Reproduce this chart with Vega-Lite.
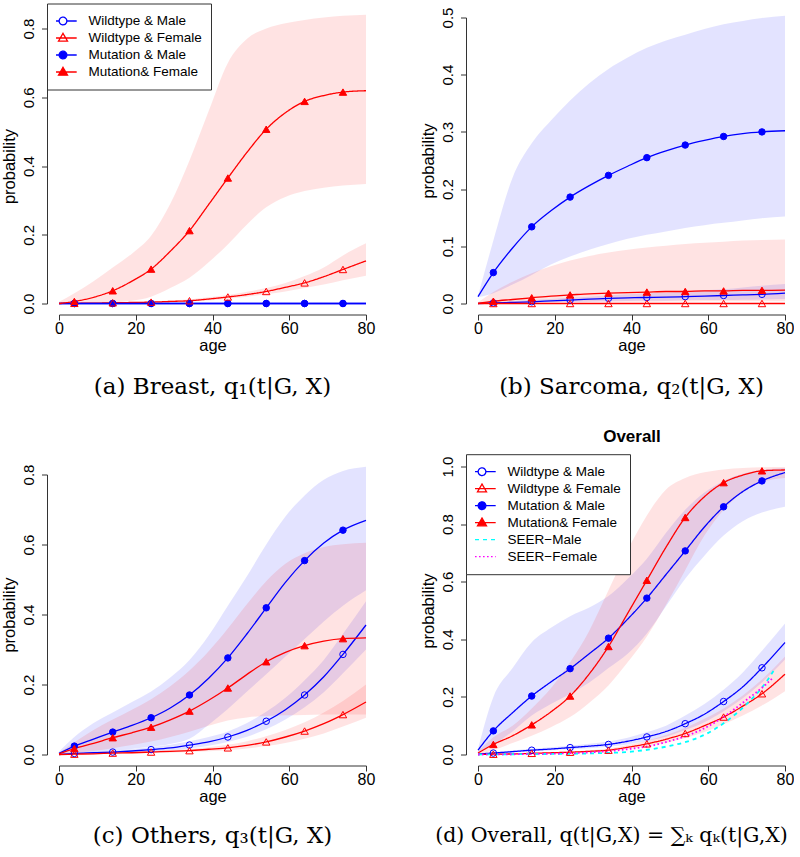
{
"$schema": "https://vega.github.io/schema/vega-lite/v6.json",
"padding": {"left": 1, "top": 2.5, "right": 0, "bottom": 0},
"datasets": {
"curves": [
{"p":"a","s":"Wildtype & Male","age":0,"est":0,"lo":0,"hi":0},
{"p":"a","s":"Wildtype & Male","age":4,"est":0,"lo":0,"hi":0},
{"p":"a","s":"Wildtype & Male","age":9,"est":0,"lo":0,"hi":0},
{"p":"a","s":"Wildtype & Male","age":14,"est":0,"lo":0,"hi":0},
{"p":"a","s":"Wildtype & Male","age":19,"est":0,"lo":0,"hi":0},
{"p":"a","s":"Wildtype & Male","age":24,"est":0,"lo":0,"hi":0},
{"p":"a","s":"Wildtype & Male","age":29,"est":0,"lo":0,"hi":0},
{"p":"a","s":"Wildtype & Male","age":34,"est":0,"lo":0,"hi":0},
{"p":"a","s":"Wildtype & Male","age":39,"est":0,"lo":0,"hi":0},
{"p":"a","s":"Wildtype & Male","age":44,"est":0,"lo":0,"hi":0},
{"p":"a","s":"Wildtype & Male","age":49,"est":0,"lo":0,"hi":0},
{"p":"a","s":"Wildtype & Male","age":54,"est":0,"lo":0,"hi":0},
{"p":"a","s":"Wildtype & Male","age":59,"est":0,"lo":0,"hi":0},
{"p":"a","s":"Wildtype & Male","age":64,"est":0,"lo":0,"hi":0},
{"p":"a","s":"Wildtype & Male","age":69,"est":0,"lo":0,"hi":0},
{"p":"a","s":"Wildtype & Male","age":74,"est":0,"lo":0,"hi":0},
{"p":"a","s":"Wildtype & Male","age":80,"est":0,"lo":0,"hi":0},
{"p":"a","s":"Wildtype & Female","age":0,"est":0,"lo":0,"hi":0},
{"p":"a","s":"Wildtype & Female","age":4,"est":0.0005,"lo":0,"hi":0.001},
{"p":"a","s":"Wildtype & Female","age":9,"est":0.001,"lo":0.0005,"hi":0.002},
{"p":"a","s":"Wildtype & Female","age":14,"est":0.002,"lo":0.001,"hi":0.003},
{"p":"a","s":"Wildtype & Female","age":19,"est":0.003,"lo":0.0015,"hi":0.0045},
{"p":"a","s":"Wildtype & Female","age":24,"est":0.004,"lo":0.002,"hi":0.006},
{"p":"a","s":"Wildtype & Female","age":29,"est":0.006,"lo":0.004,"hi":0.009},
{"p":"a","s":"Wildtype & Female","age":34,"est":0.008,"lo":0.006,"hi":0.012},
{"p":"a","s":"Wildtype & Female","age":39,"est":0.013,"lo":0.009,"hi":0.018},
{"p":"a","s":"Wildtype & Female","age":44,"est":0.019,"lo":0.014,"hi":0.025},
{"p":"a","s":"Wildtype & Female","age":49,"est":0.026,"lo":0.02,"hi":0.034},
{"p":"a","s":"Wildtype & Female","age":54,"est":0.035,"lo":0.027,"hi":0.045},
{"p":"a","s":"Wildtype & Female","age":59,"est":0.047,"lo":0.035,"hi":0.06},
{"p":"a","s":"Wildtype & Female","age":64,"est":0.06,"lo":0.045,"hi":0.08},
{"p":"a","s":"Wildtype & Female","age":69,"est":0.078,"lo":0.055,"hi":0.105},
{"p":"a","s":"Wildtype & Female","age":74,"est":0.099,"lo":0.068,"hi":0.14},
{"p":"a","s":"Wildtype & Female","age":80,"est":0.124,"lo":0.081,"hi":0.175},
{"p":"a","s":"Mutation & Male","age":0,"est":0,"lo":0,"hi":0},
{"p":"a","s":"Mutation & Male","age":4,"est":0,"lo":0,"hi":0},
{"p":"a","s":"Mutation & Male","age":9,"est":0,"lo":0,"hi":0},
{"p":"a","s":"Mutation & Male","age":14,"est":0,"lo":0,"hi":0},
{"p":"a","s":"Mutation & Male","age":19,"est":0,"lo":0,"hi":0},
{"p":"a","s":"Mutation & Male","age":24,"est":0,"lo":0,"hi":0},
{"p":"a","s":"Mutation & Male","age":29,"est":0,"lo":0,"hi":0},
{"p":"a","s":"Mutation & Male","age":34,"est":0,"lo":0,"hi":0},
{"p":"a","s":"Mutation & Male","age":39,"est":0,"lo":0,"hi":0},
{"p":"a","s":"Mutation & Male","age":44,"est":0,"lo":0,"hi":0},
{"p":"a","s":"Mutation & Male","age":49,"est":0,"lo":0,"hi":0},
{"p":"a","s":"Mutation & Male","age":54,"est":0,"lo":0,"hi":0},
{"p":"a","s":"Mutation & Male","age":59,"est":0,"lo":0,"hi":0},
{"p":"a","s":"Mutation & Male","age":64,"est":0,"lo":0,"hi":0},
{"p":"a","s":"Mutation & Male","age":69,"est":0,"lo":0,"hi":0},
{"p":"a","s":"Mutation & Male","age":74,"est":0,"lo":0,"hi":0},
{"p":"a","s":"Mutation & Male","age":80,"est":0,"lo":0,"hi":0},
{"p":"a","s":"Mutation& Female","age":0,"est":0,"lo":0,"hi":0.005},
{"p":"a","s":"Mutation& Female","age":4,"est":0.006,"lo":0,"hi":0.03},
{"p":"a","s":"Mutation& Female","age":9,"est":0.018,"lo":0.001,"hi":0.065},
{"p":"a","s":"Mutation& Female","age":14,"est":0.037,"lo":0.003,"hi":0.105},
{"p":"a","s":"Mutation& Female","age":19,"est":0.065,"lo":0.008,"hi":0.145},
{"p":"a","s":"Mutation& Female","age":24,"est":0.1,"lo":0.02,"hi":0.197},
{"p":"a","s":"Mutation& Female","age":29,"est":0.152,"lo":0.045,"hi":0.29},
{"p":"a","s":"Mutation& Female","age":34,"est":0.212,"lo":0.075,"hi":0.416},
{"p":"a","s":"Mutation& Female","age":39,"est":0.288,"lo":0.12,"hi":0.56},
{"p":"a","s":"Mutation& Female","age":44,"est":0.365,"lo":0.172,"hi":0.7},
{"p":"a","s":"Mutation& Female","age":49,"est":0.44,"lo":0.23,"hi":0.77},
{"p":"a","s":"Mutation& Female","age":54,"est":0.507,"lo":0.28,"hi":0.8},
{"p":"a","s":"Mutation& Female","age":59,"est":0.555,"lo":0.31,"hi":0.815},
{"p":"a","s":"Mutation& Female","age":64,"est":0.588,"lo":0.327,"hi":0.825},
{"p":"a","s":"Mutation& Female","age":69,"est":0.605,"lo":0.337,"hi":0.832},
{"p":"a","s":"Mutation& Female","age":74,"est":0.615,"lo":0.343,"hi":0.837},
{"p":"a","s":"Mutation& Female","age":80,"est":0.619,"lo":0.348,"hi":0.84},
{"p":"b","s":"Wildtype & Male","age":0,"est":0,"lo":0,"hi":0},
{"p":"b","s":"Wildtype & Male","age":4,"est":0.001,"lo":0.0005,"hi":0.002},
{"p":"b","s":"Wildtype & Male","age":9,"est":0.002,"lo":0.001,"hi":0.004},
{"p":"b","s":"Wildtype & Male","age":14,"est":0.003,"lo":0.0015,"hi":0.006},
{"p":"b","s":"Wildtype & Male","age":19,"est":0.0045,"lo":0.002,"hi":0.008},
{"p":"b","s":"Wildtype & Male","age":24,"est":0.006,"lo":0.003,"hi":0.01},
{"p":"b","s":"Wildtype & Male","age":29,"est":0.0075,"lo":0.0035,"hi":0.012},
{"p":"b","s":"Wildtype & Male","age":34,"est":0.009,"lo":0.004,"hi":0.014},
{"p":"b","s":"Wildtype & Male","age":39,"est":0.01,"lo":0.0045,"hi":0.016},
{"p":"b","s":"Wildtype & Male","age":44,"est":0.0105,"lo":0.005,"hi":0.018},
{"p":"b","s":"Wildtype & Male","age":49,"est":0.011,"lo":0.005,"hi":0.019},
{"p":"b","s":"Wildtype & Male","age":54,"est":0.012,"lo":0.0055,"hi":0.021},
{"p":"b","s":"Wildtype & Male","age":59,"est":0.013,"lo":0.006,"hi":0.023},
{"p":"b","s":"Wildtype & Male","age":64,"est":0.014,"lo":0.006,"hi":0.025},
{"p":"b","s":"Wildtype & Male","age":69,"est":0.015,"lo":0.0065,"hi":0.028},
{"p":"b","s":"Wildtype & Male","age":74,"est":0.016,"lo":0.007,"hi":0.031},
{"p":"b","s":"Wildtype & Male","age":80,"est":0.018,"lo":0.008,"hi":0.034},
{"p":"b","s":"Wildtype & Female","age":0,"est":0,"lo":0,"hi":0},
{"p":"b","s":"Wildtype & Female","age":4,"est":0,"lo":0,"hi":0},
{"p":"b","s":"Wildtype & Female","age":9,"est":0,"lo":0,"hi":0},
{"p":"b","s":"Wildtype & Female","age":14,"est":0,"lo":0,"hi":0},
{"p":"b","s":"Wildtype & Female","age":19,"est":0,"lo":0,"hi":0},
{"p":"b","s":"Wildtype & Female","age":24,"est":0,"lo":0,"hi":0},
{"p":"b","s":"Wildtype & Female","age":29,"est":0,"lo":0,"hi":0},
{"p":"b","s":"Wildtype & Female","age":34,"est":0,"lo":0,"hi":0},
{"p":"b","s":"Wildtype & Female","age":39,"est":0,"lo":0,"hi":0},
{"p":"b","s":"Wildtype & Female","age":44,"est":0,"lo":0,"hi":0},
{"p":"b","s":"Wildtype & Female","age":49,"est":0,"lo":0,"hi":0},
{"p":"b","s":"Wildtype & Female","age":54,"est":0,"lo":0,"hi":0},
{"p":"b","s":"Wildtype & Female","age":59,"est":0,"lo":0,"hi":0},
{"p":"b","s":"Wildtype & Female","age":64,"est":0,"lo":0,"hi":0},
{"p":"b","s":"Wildtype & Female","age":69,"est":0,"lo":0,"hi":0},
{"p":"b","s":"Wildtype & Female","age":74,"est":0,"lo":0,"hi":0},
{"p":"b","s":"Wildtype & Female","age":80,"est":0,"lo":0,"hi":0},
{"p":"b","s":"Mutation & Male","age":0,"est":0.012,"lo":0.011,"hi":0.013},
{"p":"b","s":"Mutation & Male","age":4,"est":0.054,"lo":0.018,"hi":0.11},
{"p":"b","s":"Mutation & Male","age":9,"est":0.097,"lo":0.033,"hi":0.22},
{"p":"b","s":"Mutation & Male","age":14,"est":0.134,"lo":0.05,"hi":0.28},
{"p":"b","s":"Mutation & Male","age":19,"est":0.162,"lo":0.068,"hi":0.32},
{"p":"b","s":"Mutation & Male","age":24,"est":0.186,"lo":0.082,"hi":0.355},
{"p":"b","s":"Mutation & Male","age":29,"est":0.206,"lo":0.094,"hi":0.385},
{"p":"b","s":"Mutation & Male","age":34,"est":0.224,"lo":0.104,"hi":0.41},
{"p":"b","s":"Mutation & Male","age":39,"est":0.24,"lo":0.113,"hi":0.43},
{"p":"b","s":"Mutation & Male","age":44,"est":0.255,"lo":0.12,"hi":0.447},
{"p":"b","s":"Mutation & Male","age":49,"est":0.267,"lo":0.126,"hi":0.46},
{"p":"b","s":"Mutation & Male","age":54,"est":0.277,"lo":0.132,"hi":0.47},
{"p":"b","s":"Mutation & Male","age":59,"est":0.285,"lo":0.137,"hi":0.48},
{"p":"b","s":"Mutation & Male","age":64,"est":0.292,"lo":0.141,"hi":0.488},
{"p":"b","s":"Mutation & Male","age":69,"est":0.297,"lo":0.145,"hi":0.494},
{"p":"b","s":"Mutation & Male","age":74,"est":0.3,"lo":0.149,"hi":0.499},
{"p":"b","s":"Mutation & Male","age":80,"est":0.302,"lo":0.152,"hi":0.503},
{"p":"b","s":"Mutation& Female","age":0,"est":0,"lo":0,"hi":0.002},
{"p":"b","s":"Mutation& Female","age":4,"est":0.004,"lo":0.0005,"hi":0.02},
{"p":"b","s":"Mutation& Female","age":9,"est":0.007,"lo":0.001,"hi":0.038},
{"p":"b","s":"Mutation& Female","age":14,"est":0.01,"lo":0.0015,"hi":0.053},
{"p":"b","s":"Mutation& Female","age":19,"est":0.013,"lo":0.002,"hi":0.065},
{"p":"b","s":"Mutation& Female","age":24,"est":0.015,"lo":0.002,"hi":0.075},
{"p":"b","s":"Mutation& Female","age":29,"est":0.017,"lo":0.0025,"hi":0.083},
{"p":"b","s":"Mutation& Female","age":34,"est":0.018,"lo":0.003,"hi":0.089},
{"p":"b","s":"Mutation& Female","age":39,"est":0.019,"lo":0.003,"hi":0.094},
{"p":"b","s":"Mutation& Female","age":44,"est":0.02,"lo":0.003,"hi":0.098},
{"p":"b","s":"Mutation& Female","age":49,"est":0.021,"lo":0.0035,"hi":0.101},
{"p":"b","s":"Mutation& Female","age":54,"est":0.021,"lo":0.0035,"hi":0.104},
{"p":"b","s":"Mutation& Female","age":59,"est":0.022,"lo":0.004,"hi":0.106},
{"p":"b","s":"Mutation& Female","age":64,"est":0.022,"lo":0.004,"hi":0.108},
{"p":"b","s":"Mutation& Female","age":69,"est":0.023,"lo":0.004,"hi":0.11},
{"p":"b","s":"Mutation& Female","age":74,"est":0.023,"lo":0.004,"hi":0.111},
{"p":"b","s":"Mutation& Female","age":80,"est":0.0235,"lo":0.004,"hi":0.112},
{"p":"c","s":"Wildtype & Male","age":0,"est":0,"lo":0,"hi":0.001},
{"p":"c","s":"Wildtype & Male","age":4,"est":0.003,"lo":0.001,"hi":0.005},
{"p":"c","s":"Wildtype & Male","age":9,"est":0.005,"lo":0.002,"hi":0.008},
{"p":"c","s":"Wildtype & Male","age":14,"est":0.007,"lo":0.004,"hi":0.011},
{"p":"c","s":"Wildtype & Male","age":19,"est":0.01,"lo":0.006,"hi":0.015},
{"p":"c","s":"Wildtype & Male","age":24,"est":0.014,"lo":0.008,"hi":0.021},
{"p":"c","s":"Wildtype & Male","age":29,"est":0.019,"lo":0.012,"hi":0.028},
{"p":"c","s":"Wildtype & Male","age":34,"est":0.027,"lo":0.017,"hi":0.038},
{"p":"c","s":"Wildtype & Male","age":39,"est":0.036,"lo":0.025,"hi":0.05},
{"p":"c","s":"Wildtype & Male","age":44,"est":0.05,"lo":0.036,"hi":0.066},
{"p":"c","s":"Wildtype & Male","age":49,"est":0.069,"lo":0.051,"hi":0.09},
{"p":"c","s":"Wildtype & Male","age":54,"est":0.095,"lo":0.072,"hi":0.122},
{"p":"c","s":"Wildtype & Male","age":59,"est":0.128,"lo":0.1,"hi":0.162},
{"p":"c","s":"Wildtype & Male","age":64,"est":0.17,"lo":0.135,"hi":0.212},
{"p":"c","s":"Wildtype & Male","age":69,"est":0.222,"lo":0.178,"hi":0.27},
{"p":"c","s":"Wildtype & Male","age":74,"est":0.286,"lo":0.232,"hi":0.345},
{"p":"c","s":"Wildtype & Male","age":80,"est":0.37,"lo":0.3,"hi":0.438},
{"p":"c","s":"Wildtype & Female","age":0,"est":0,"lo":0,"hi":0},
{"p":"c","s":"Wildtype & Female","age":4,"est":0.001,"lo":0.0005,"hi":0.002},
{"p":"c","s":"Wildtype & Female","age":9,"est":0.002,"lo":0.001,"hi":0.003},
{"p":"c","s":"Wildtype & Female","age":14,"est":0.004,"lo":0.002,"hi":0.006},
{"p":"c","s":"Wildtype & Female","age":19,"est":0.005,"lo":0.003,"hi":0.008},
{"p":"c","s":"Wildtype & Female","age":24,"est":0.007,"lo":0.004,"hi":0.01},
{"p":"c","s":"Wildtype & Female","age":29,"est":0.009,"lo":0.005,"hi":0.013},
{"p":"c","s":"Wildtype & Female","age":34,"est":0.011,"lo":0.007,"hi":0.016},
{"p":"c","s":"Wildtype & Female","age":39,"est":0.015,"lo":0.009,"hi":0.021},
{"p":"c","s":"Wildtype & Female","age":44,"est":0.019,"lo":0.012,"hi":0.028},
{"p":"c","s":"Wildtype & Female","age":49,"est":0.026,"lo":0.017,"hi":0.038},
{"p":"c","s":"Wildtype & Female","age":54,"est":0.036,"lo":0.024,"hi":0.052},
{"p":"c","s":"Wildtype & Female","age":59,"est":0.05,"lo":0.033,"hi":0.07},
{"p":"c","s":"Wildtype & Female","age":64,"est":0.067,"lo":0.045,"hi":0.092},
{"p":"c","s":"Wildtype & Female","age":69,"est":0.088,"lo":0.06,"hi":0.12},
{"p":"c","s":"Wildtype & Female","age":74,"est":0.114,"lo":0.08,"hi":0.153},
{"p":"c","s":"Wildtype & Female","age":80,"est":0.15,"lo":0.105,"hi":0.2},
{"p":"c","s":"Mutation & Male","age":0,"est":0.003,"lo":0,"hi":0.008},
{"p":"c","s":"Mutation & Male","age":4,"est":0.024,"lo":0.002,"hi":0.05},
{"p":"c","s":"Mutation & Male","age":9,"est":0.044,"lo":0.005,"hi":0.09},
{"p":"c","s":"Mutation & Male","age":14,"est":0.064,"lo":0.01,"hi":0.12},
{"p":"c","s":"Mutation & Male","age":19,"est":0.083,"lo":0.016,"hi":0.15},
{"p":"c","s":"Mutation & Male","age":24,"est":0.105,"lo":0.022,"hi":0.18},
{"p":"c","s":"Mutation & Male","age":29,"est":0.133,"lo":0.03,"hi":0.22},
{"p":"c","s":"Mutation & Male","age":34,"est":0.17,"lo":0.045,"hi":0.27},
{"p":"c","s":"Mutation & Male","age":39,"est":0.218,"lo":0.085,"hi":0.34},
{"p":"c","s":"Mutation & Male","age":44,"est":0.276,"lo":0.13,"hi":0.425},
{"p":"c","s":"Mutation & Male","age":49,"est":0.345,"lo":0.18,"hi":0.51},
{"p":"c","s":"Mutation & Male","age":54,"est":0.419,"lo":0.229,"hi":0.6},
{"p":"c","s":"Mutation & Male","age":59,"est":0.492,"lo":0.28,"hi":0.68},
{"p":"c","s":"Mutation & Male","age":64,"est":0.554,"lo":0.33,"hi":0.74},
{"p":"c","s":"Mutation & Male","age":69,"est":0.604,"lo":0.38,"hi":0.785},
{"p":"c","s":"Mutation & Male","age":74,"est":0.641,"lo":0.425,"hi":0.81},
{"p":"c","s":"Mutation & Male","age":80,"est":0.669,"lo":0.469,"hi":0.822},
{"p":"c","s":"Mutation& Female","age":0,"est":0.002,"lo":0,"hi":0.005},
{"p":"c","s":"Mutation& Female","age":4,"est":0.017,"lo":0.004,"hi":0.035},
{"p":"c","s":"Mutation& Female","age":9,"est":0.032,"lo":0.01,"hi":0.07},
{"p":"c","s":"Mutation& Female","age":14,"est":0.048,"lo":0.018,"hi":0.1},
{"p":"c","s":"Mutation& Female","age":19,"est":0.062,"lo":0.027,"hi":0.128},
{"p":"c","s":"Mutation& Female","age":24,"est":0.078,"lo":0.037,"hi":0.158},
{"p":"c","s":"Mutation& Female","age":29,"est":0.099,"lo":0.05,"hi":0.195},
{"p":"c","s":"Mutation& Female","age":34,"est":0.124,"lo":0.065,"hi":0.24},
{"p":"c","s":"Mutation& Female","age":39,"est":0.155,"lo":0.082,"hi":0.295},
{"p":"c","s":"Mutation& Female","age":44,"est":0.19,"lo":0.097,"hi":0.36},
{"p":"c","s":"Mutation& Female","age":49,"est":0.229,"lo":0.106,"hi":0.43},
{"p":"c","s":"Mutation& Female","age":54,"est":0.265,"lo":0.11,"hi":0.495},
{"p":"c","s":"Mutation& Female","age":59,"est":0.292,"lo":0.112,"hi":0.545},
{"p":"c","s":"Mutation& Female","age":64,"est":0.311,"lo":0.113,"hi":0.575},
{"p":"c","s":"Mutation& Female","age":69,"est":0.324,"lo":0.114,"hi":0.593},
{"p":"c","s":"Mutation& Female","age":74,"est":0.331,"lo":0.114,"hi":0.601},
{"p":"c","s":"Mutation& Female","age":80,"est":0.333,"lo":0.114,"hi":0.605},
{"p":"d","s":"Wildtype & Male","age":0,"est":0.002,"lo":0.001,"hi":0.003},
{"p":"d","s":"Wildtype & Male","age":4,"est":0.005,"lo":0.003,"hi":0.008},
{"p":"d","s":"Wildtype & Male","age":9,"est":0.01,"lo":0.007,"hi":0.014},
{"p":"d","s":"Wildtype & Male","age":14,"est":0.015,"lo":0.011,"hi":0.02},
{"p":"d","s":"Wildtype & Male","age":19,"est":0.019,"lo":0.014,"hi":0.025},
{"p":"d","s":"Wildtype & Male","age":24,"est":0.024,"lo":0.018,"hi":0.03},
{"p":"d","s":"Wildtype & Male","age":29,"est":0.029,"lo":0.022,"hi":0.037},
{"p":"d","s":"Wildtype & Male","age":34,"est":0.035,"lo":0.027,"hi":0.045},
{"p":"d","s":"Wildtype & Male","age":39,"est":0.046,"lo":0.035,"hi":0.058},
{"p":"d","s":"Wildtype & Male","age":44,"est":0.061,"lo":0.047,"hi":0.078},
{"p":"d","s":"Wildtype & Male","age":49,"est":0.08,"lo":0.062,"hi":0.1},
{"p":"d","s":"Wildtype & Male","age":54,"est":0.107,"lo":0.085,"hi":0.135},
{"p":"d","s":"Wildtype & Male","age":59,"est":0.14,"lo":0.112,"hi":0.175},
{"p":"d","s":"Wildtype & Male","age":64,"est":0.184,"lo":0.15,"hi":0.225},
{"p":"d","s":"Wildtype & Male","age":69,"est":0.235,"lo":0.195,"hi":0.285},
{"p":"d","s":"Wildtype & Male","age":74,"est":0.301,"lo":0.25,"hi":0.36},
{"p":"d","s":"Wildtype & Male","age":80,"est":0.389,"lo":0.33,"hi":0.455},
{"p":"d","s":"Wildtype & Female","age":0,"est":0,"lo":0,"hi":0},
{"p":"d","s":"Wildtype & Female","age":4,"est":0.001,"lo":0.0005,"hi":0.002},
{"p":"d","s":"Wildtype & Female","age":9,"est":0.002,"lo":0.001,"hi":0.004},
{"p":"d","s":"Wildtype & Female","age":14,"est":0.004,"lo":0.002,"hi":0.006},
{"p":"d","s":"Wildtype & Female","age":19,"est":0.006,"lo":0.003,"hi":0.008},
{"p":"d","s":"Wildtype & Female","age":24,"est":0.008,"lo":0.005,"hi":0.011},
{"p":"d","s":"Wildtype & Female","age":29,"est":0.011,"lo":0.007,"hi":0.015},
{"p":"d","s":"Wildtype & Female","age":34,"est":0.015,"lo":0.011,"hi":0.021},
{"p":"d","s":"Wildtype & Female","age":39,"est":0.025,"lo":0.018,"hi":0.033},
{"p":"d","s":"Wildtype & Female","age":44,"est":0.037,"lo":0.028,"hi":0.048},
{"p":"d","s":"Wildtype & Female","age":49,"est":0.053,"lo":0.04,"hi":0.068},
{"p":"d","s":"Wildtype & Female","age":54,"est":0.073,"lo":0.057,"hi":0.092},
{"p":"d","s":"Wildtype & Female","age":59,"est":0.1,"lo":0.078,"hi":0.124},
{"p":"d","s":"Wildtype & Female","age":64,"est":0.13,"lo":0.105,"hi":0.16},
{"p":"d","s":"Wildtype & Female","age":69,"est":0.168,"lo":0.135,"hi":0.205},
{"p":"d","s":"Wildtype & Female","age":74,"est":0.211,"lo":0.17,"hi":0.26},
{"p":"d","s":"Wildtype & Female","age":80,"est":0.279,"lo":0.22,"hi":0.34},
{"p":"d","s":"Mutation & Male","age":0,"est":0.015,"lo":0.01,"hi":0.02},
{"p":"d","s":"Mutation & Male","age":4,"est":0.082,"lo":0.035,"hi":0.2},
{"p":"d","s":"Mutation & Male","age":9,"est":0.145,"lo":0.08,"hi":0.3},
{"p":"d","s":"Mutation & Male","age":14,"est":0.203,"lo":0.135,"hi":0.39},
{"p":"d","s":"Mutation & Male","age":19,"est":0.252,"lo":0.175,"hi":0.44},
{"p":"d","s":"Mutation & Male","age":24,"est":0.298,"lo":0.21,"hi":0.48},
{"p":"d","s":"Mutation & Male","age":29,"est":0.35,"lo":0.25,"hi":0.51},
{"p":"d","s":"Mutation & Male","age":34,"est":0.404,"lo":0.3,"hi":0.55},
{"p":"d","s":"Mutation & Male","age":39,"est":0.47,"lo":0.35,"hi":0.61},
{"p":"d","s":"Mutation & Male","age":44,"est":0.543,"lo":0.42,"hi":0.68},
{"p":"d","s":"Mutation & Male","age":49,"est":0.625,"lo":0.515,"hi":0.77},
{"p":"d","s":"Mutation & Male","age":54,"est":0.707,"lo":0.61,"hi":0.85},
{"p":"d","s":"Mutation & Male","age":59,"est":0.79,"lo":0.69,"hi":0.91},
{"p":"d","s":"Mutation & Male","age":64,"est":0.86,"lo":0.76,"hi":0.95},
{"p":"d","s":"Mutation & Male","age":69,"est":0.913,"lo":0.81,"hi":0.975},
{"p":"d","s":"Mutation & Male","age":74,"est":0.95,"lo":0.84,"hi":0.988},
{"p":"d","s":"Mutation & Male","age":80,"est":0.979,"lo":0.86,"hi":0.995},
{"p":"d","s":"Mutation& Female","age":0,"est":0.005,"lo":0,"hi":0.01},
{"p":"d","s":"Mutation& Female","age":4,"est":0.035,"lo":0.015,"hi":0.06},
{"p":"d","s":"Mutation& Female","age":9,"est":0.065,"lo":0.04,"hi":0.1},
{"p":"d","s":"Mutation& Female","age":14,"est":0.103,"lo":0.065,"hi":0.16},
{"p":"d","s":"Mutation& Female","age":19,"est":0.148,"lo":0.095,"hi":0.23},
{"p":"d","s":"Mutation& Female","age":24,"est":0.203,"lo":0.13,"hi":0.32},
{"p":"d","s":"Mutation& Female","age":29,"est":0.28,"lo":0.18,"hi":0.43},
{"p":"d","s":"Mutation& Female","age":34,"est":0.375,"lo":0.24,"hi":0.57},
{"p":"d","s":"Mutation& Female","age":39,"est":0.49,"lo":0.32,"hi":0.71},
{"p":"d","s":"Mutation& Female","age":44,"est":0.605,"lo":0.41,"hi":0.83},
{"p":"d","s":"Mutation& Female","age":49,"est":0.72,"lo":0.52,"hi":0.92},
{"p":"d","s":"Mutation& Female","age":54,"est":0.823,"lo":0.64,"hi":0.96},
{"p":"d","s":"Mutation& Female","age":59,"est":0.895,"lo":0.76,"hi":0.98},
{"p":"d","s":"Mutation& Female","age":64,"est":0.944,"lo":0.85,"hi":0.99},
{"p":"d","s":"Mutation& Female","age":69,"est":0.97,"lo":0.91,"hi":0.995},
{"p":"d","s":"Mutation& Female","age":74,"est":0.985,"lo":0.945,"hi":0.997},
{"p":"d","s":"Mutation& Female","age":80,"est":0.988,"lo":0.96,"hi":0.998}
],
"seer": [
{"s":"SEER−Male","age":0,"est":0},
{"s":"SEER−Male","age":10,"est":0.001},
{"s":"SEER−Male","age":20,"est":0.002},
{"s":"SEER−Male","age":30,"est":0.004},
{"s":"SEER−Male","age":40,"est":0.01},
{"s":"SEER−Male","age":45,"est":0.018},
{"s":"SEER−Male","age":50,"est":0.03},
{"s":"SEER−Male","age":55,"est":0.047},
{"s":"SEER−Male","age":60,"est":0.075},
{"s":"SEER−Male","age":65,"est":0.118},
{"s":"SEER−Male","age":70,"est":0.175},
{"s":"SEER−Male","age":75,"est":0.25},
{"s":"SEER−Male","age":77,"est":0.29},
{"s":"SEER−Female","age":0,"est":0},
{"s":"SEER−Female","age":10,"est":0.001},
{"s":"SEER−Female","age":20,"est":0.003},
{"s":"SEER−Female","age":30,"est":0.008},
{"s":"SEER−Female","age":40,"est":0.02},
{"s":"SEER−Female","age":45,"est":0.03},
{"s":"SEER−Female","age":50,"est":0.047},
{"s":"SEER−Female","age":55,"est":0.068},
{"s":"SEER−Female","age":60,"est":0.098},
{"s":"SEER−Female","age":65,"est":0.14},
{"s":"SEER−Female","age":70,"est":0.19},
{"s":"SEER−Female","age":75,"est":0.243},
{"s":"SEER−Female","age":77,"est":0.268}
]
},
"columns": 2,
"bounds": "flush",
"spacing": {"row": 163, "column": 112},
"resolve": {
  "scale": {"color": "independent", "stroke": "independent", "fill": "independent", "shape": "independent", "strokeDash": "independent", "y": "independent", "x": "independent"},
  "legend": {"color": "independent", "stroke": "independent", "fill": "independent", "shape": "independent", "strokeDash": "independent"}
},
"concat": [
{
  "width": 307, "height": 286,
  "title": {"text": "(a)  Breast, q₁(t|G, X)", "orient": "bottom", "offset": 22, "anchor": "middle", "frame": "group"},
  "encoding": {"x": {"field": "age", "type": "quantitative", "title": "age", "scale": {"domain": [0, 80], "nice": false, "zero": false}, "axis": {"orient": "bottom", "values": [0, 20, 40, 60, 80]}}},
  "layer": [
    {"data": {"name": "curves"}, "transform": [{"filter": "datum.p == 'a'"}],
     "mark": {"type": "area", "interpolate": "monotone", "fillOpacity": 0.11, "opacity": 1},
     "encoding": {
       "y": {"field": "lo", "type": "quantitative", "title": "probability", "scale": {"domain": [0, 0.8], "range": [286, 11], "nice": false, "zero": false}, "axis": {"values": [0, 0.2, 0.4, 0.6, 0.8], "format": ".1f"}},
       "y2": {"field": "hi"},
       "color": {"field": "s", "type": "nominal", "legend": null, "scale": {"domain": ["Mutation& Female", "Mutation & Male", "Wildtype & Female", "Wildtype & Male"], "range": ["#FF0000", "#0000FF", "#FF0000", "#0000FF"]}}
     }},
    {"data": {"name": "curves"}, "transform": [{"filter": "datum.p == 'a'"}],
     "mark": {"type": "line", "interpolate": "monotone", "strokeWidth": 1.3, "opacity": 1},
     "encoding": {
       "y": {"field": "est", "type": "quantitative", "title": "probability"},
       "stroke": {"field": "s", "type": "nominal", "scale": {"domain": ["Wildtype & Male", "Wildtype & Female", "Mutation & Male", "Mutation& Female"], "range": ["#0000FF", "#FF0000", "#0000FF", "#FF0000"]},
         "legend": {"orient": "none", "legendX": -12, "legendY": -14, "title": null, "labelFont": "Liberation Sans", "labelFontSize": 13.5, "labelColor": "black", "symbolSize": 750, "symbolStrokeWidth": 1.3, "symbolFillColor": "transparent", "symbolOpacity": 1, "clipHeight": 17, "rowPadding": 0, "padding": 9, "strokeColor": "#333", "fillColor": "white", "symbolOffset": -7.5, "labelOffset": 11, "labelLimit": 300}},
       "strokeDash": {"field": "s", "type": "nominal", "scale": {"domain": ["Wildtype & Male", "Wildtype & Female", "Mutation & Male", "Mutation& Female"], "range": [[1, 0], [1, 0], [1, 0], [1, 0]]},
         "legend": {"orient": "none", "legendX": -12, "legendY": -14, "title": null, "labelFont": "Liberation Sans", "labelFontSize": 13.5, "labelColor": "black", "symbolSize": 750, "symbolStrokeWidth": 1.3, "symbolFillColor": "transparent", "symbolOpacity": 1, "clipHeight": 17, "rowPadding": 0, "padding": 9, "strokeColor": "#333", "fillColor": "white", "symbolOffset": -7.5, "labelOffset": 11, "labelLimit": 300}}
     }},
    {"data": {"name": "curves"}, "transform": [{"filter": "datum.p == 'a'"}, {"filter": {"field": "age", "oneOf": [4, 14, 24, 34, 44, 54, 64, 74]}}, {"filter": {"field": "s", "oneOf": ["Wildtype & Male", "Mutation & Male"]}}],
     "mark": {"type": "point", "shape": "circle", "size": 42, "strokeWidth": 1, "opacity": 1},
     "encoding": {
       "y": {"field": "est", "type": "quantitative", "title": "probability"},
       "stroke": {"field": "s", "type": "nominal",
         "legend": {"orient": "none", "legendX": -12, "legendY": -14, "title": null, "labelFont": "Liberation Sans", "labelFontSize": 13.5, "labelColor": "black", "symbolSize": 750, "symbolStrokeWidth": 1.3, "symbolFillColor": "transparent", "symbolOpacity": 1, "clipHeight": 17, "rowPadding": 0, "padding": 9, "strokeColor": "#333", "fillColor": "white", "symbolOffset": -7.5, "labelOffset": 11, "labelLimit": 300}},
       "fill": {"field": "s", "type": "nominal", "scale": {"domain": ["Wildtype & Male", "Wildtype & Female", "Mutation & Male", "Mutation& Female"], "range": ["transparent", "transparent", "#0000FF", "#FF0000"]},
         "legend": {"orient": "none", "legendX": -12, "legendY": -14, "title": null, "labelFont": "Liberation Sans", "labelFontSize": 13.5, "labelColor": "black", "symbolSize": 750, "symbolStrokeWidth": 1.3, "symbolFillColor": "transparent", "symbolOpacity": 1, "clipHeight": 17, "rowPadding": 0, "padding": 9, "strokeColor": "#333", "fillColor": "white", "symbolOffset": -7.5, "labelOffset": 11, "labelLimit": 300}}
     }},
    {"data": {"name": "curves"}, "transform": [{"filter": "datum.p == 'a'"}, {"filter": {"field": "age", "oneOf": [4, 14, 24, 34, 44, 54, 64, 74]}}, {"filter": {"field": "s", "oneOf": ["Wildtype & Female", "Mutation& Female"]}}],
     "mark": {"type": "point", "shape": "triangle-up", "size": 55, "strokeWidth": 1, "opacity": 1},
     "encoding": {
       "y": {"field": "est", "type": "quantitative", "title": "probability"},
       "stroke": {"field": "s", "type": "nominal",
         "legend": {"orient": "none", "legendX": -12, "legendY": -14, "title": null, "labelFont": "Liberation Sans", "labelFontSize": 13.5, "labelColor": "black", "symbolSize": 750, "symbolStrokeWidth": 1.3, "symbolFillColor": "transparent", "symbolOpacity": 1, "clipHeight": 17, "rowPadding": 0, "padding": 9, "strokeColor": "#333", "fillColor": "white", "symbolOffset": -7.5, "labelOffset": 11, "labelLimit": 300}},
       "fill": {"field": "s", "type": "nominal",
         "legend": {"orient": "none", "legendX": -12, "legendY": -14, "title": null, "labelFont": "Liberation Sans", "labelFontSize": 13.5, "labelColor": "black", "symbolSize": 750, "symbolStrokeWidth": 1.3, "symbolFillColor": "transparent", "symbolOpacity": 1, "clipHeight": 17, "rowPadding": 0, "padding": 9, "strokeColor": "#333", "fillColor": "white", "symbolOffset": -7.5, "labelOffset": 11, "labelLimit": 300}}
     }},
    {"data": {"name": "curves"}, "transform": [{"filter": "false"}],
     "mark": {"type": "point", "opacity": 1, "strokeWidth": 1.3},
     "encoding": {
       "shape": {"field": "s", "type": "nominal", "scale": {"domain": ["Wildtype & Male", "Wildtype & Female", "Mutation & Male", "Mutation& Female"], "range": ["M-0.51,0H-0.28M0.28,0H1M0.28,0A0.28,0.28,0,1,1,-0.28,0A0.28,0.28,0,1,1,0.28,0Z", "M-0.51,0H1M0,-0.34L0.33,0.23L-0.33,0.23Z", "M-0.51,0H-0.28M0.28,0H1M0.28,0A0.28,0.28,0,1,1,-0.28,0A0.28,0.28,0,1,1,0.28,0Z", "M-0.51,0H1M0,-0.34L0.33,0.23L-0.33,0.23Z"]},
         "legend": {"orient": "none", "legendX": -12, "legendY": -14, "title": null, "labelFont": "Liberation Sans", "labelFontSize": 13.5, "labelColor": "black", "symbolSize": 750, "symbolStrokeWidth": 1.3, "symbolFillColor": "transparent", "symbolOpacity": 1, "clipHeight": 17, "rowPadding": 0, "padding": 9, "strokeColor": "#333", "fillColor": "white", "symbolOffset": -7.5, "labelOffset": 11, "labelLimit": 300}},
       "stroke": {"field": "s", "type": "nominal",
         "legend": {"orient": "none", "legendX": -12, "legendY": -14, "title": null, "labelFont": "Liberation Sans", "labelFontSize": 13.5, "labelColor": "black", "symbolSize": 750, "symbolStrokeWidth": 1.3, "symbolFillColor": "transparent", "symbolOpacity": 1, "clipHeight": 17, "rowPadding": 0, "padding": 9, "strokeColor": "#333", "fillColor": "white", "symbolOffset": -7.5, "labelOffset": 11, "labelLimit": 300}},
       "fill": {"field": "s", "type": "nominal",
         "legend": {"orient": "none", "legendX": -12, "legendY": -14, "title": null, "labelFont": "Liberation Sans", "labelFontSize": 13.5, "labelColor": "black", "symbolSize": 750, "symbolStrokeWidth": 1.3, "symbolFillColor": "transparent", "symbolOpacity": 1, "clipHeight": 17, "rowPadding": 0, "padding": 9, "strokeColor": "#333", "fillColor": "white", "symbolOffset": -7.5, "labelOffset": 11, "labelLimit": 300}},
       "strokeDash": {"field": "s", "type": "nominal",
         "legend": {"orient": "none", "legendX": -12, "legendY": -14, "title": null, "labelFont": "Liberation Sans", "labelFontSize": 13.5, "labelColor": "black", "symbolSize": 750, "symbolStrokeWidth": 1.3, "symbolFillColor": "transparent", "symbolOpacity": 1, "clipHeight": 17, "rowPadding": 0, "padding": 9, "strokeColor": "#333", "fillColor": "white", "symbolOffset": -7.5, "labelOffset": 11, "labelLimit": 300}}
     }}
  ]
},
{
  "width": 307, "height": 286,
  "title": {"text": "(b)  Sarcoma, q₂(t|G, X)", "orient": "bottom", "offset": 22, "anchor": "middle", "frame": "group"},
  "encoding": {"x": {"field": "age", "type": "quantitative", "title": "age", "scale": {"domain": [0, 80], "nice": false, "zero": false}, "axis": {"orient": "bottom", "values": [0, 20, 40, 60, 80]}}},
  "layer": [
    {"data": {"name": "curves"}, "transform": [{"filter": "datum.p == 'b'"}],
     "mark": {"type": "area", "interpolate": "monotone", "fillOpacity": 0.11, "opacity": 1},
     "encoding": {
       "y": {"field": "lo", "type": "quantitative", "title": "probability", "scale": {"domain": [0, 0.5], "nice": false, "zero": false}, "axis": {"values": [0, 0.1, 0.2, 0.3, 0.4, 0.5], "format": ".1f"}},
       "y2": {"field": "hi"},
       "color": {"field": "s", "type": "nominal", "legend": null, "scale": {"domain": ["Mutation& Female", "Mutation & Male", "Wildtype & Female", "Wildtype & Male"], "range": ["#FF0000", "#0000FF", "#FF0000", "#0000FF"]}}
     }},
    {"data": {"name": "curves"}, "transform": [{"filter": "datum.p == 'b'"}],
     "mark": {"type": "line", "interpolate": "monotone", "strokeWidth": 1.3, "opacity": 1},
     "encoding": {
       "y": {"field": "est", "type": "quantitative", "title": "probability"},
       "stroke": {"field": "s", "type": "nominal", "legend": null, "scale": {"domain": ["Wildtype & Male", "Wildtype & Female", "Mutation & Male", "Mutation& Female"], "range": ["#0000FF", "#FF0000", "#0000FF", "#FF0000"]}}
     }},
    {"data": {"name": "curves"}, "transform": [{"filter": "datum.p == 'b'"}, {"filter": {"field": "age", "oneOf": [4, 14, 24, 34, 44, 54, 64, 74]}}, {"filter": {"field": "s", "oneOf": ["Wildtype & Male", "Mutation & Male"]}}],
     "mark": {"type": "point", "shape": "circle", "size": 42, "strokeWidth": 1, "opacity": 1},
     "encoding": {
       "y": {"field": "est", "type": "quantitative", "title": "probability"},
       "stroke": {"field": "s", "type": "nominal", "legend": null},
       "fill": {"field": "s", "type": "nominal", "legend": null, "scale": {"domain": ["Wildtype & Male", "Wildtype & Female", "Mutation & Male", "Mutation& Female"], "range": ["transparent", "transparent", "#0000FF", "#FF0000"]}}
     }},
    {"data": {"name": "curves"}, "transform": [{"filter": "datum.p == 'b'"}, {"filter": {"field": "age", "oneOf": [4, 14, 24, 34, 44, 54, 64, 74]}}, {"filter": {"field": "s", "oneOf": ["Wildtype & Female", "Mutation& Female"]}}],
     "mark": {"type": "point", "shape": "triangle-up", "size": 55, "strokeWidth": 1, "opacity": 1},
     "encoding": {
       "y": {"field": "est", "type": "quantitative", "title": "probability"},
       "stroke": {"field": "s", "type": "nominal", "legend": null},
       "fill": {"field": "s", "type": "nominal", "legend": null}
     }}
  ]
},
{
  "width": 307, "height": 288,
  "title": {"text": "(c)  Others, q₃(t|G, X)", "orient": "bottom", "offset": 20, "anchor": "middle", "frame": "group"},
  "encoding": {"x": {"field": "age", "type": "quantitative", "title": "age", "scale": {"domain": [0, 80], "nice": false, "zero": false}, "axis": {"orient": "bottom", "values": [0, 20, 40, 60, 80]}}},
  "layer": [
    {"data": {"name": "curves"}, "transform": [{"filter": "datum.p == 'c'"}],
     "mark": {"type": "area", "interpolate": "monotone", "fillOpacity": 0.11, "opacity": 1},
     "encoding": {
       "y": {"field": "lo", "type": "quantitative", "title": "probability", "scale": {"domain": [0, 0.8], "range": [288, 8], "nice": false, "zero": false}, "axis": {"values": [0, 0.2, 0.4, 0.6, 0.8], "format": ".1f"}},
       "y2": {"field": "hi"},
       "color": {"field": "s", "type": "nominal", "legend": null, "scale": {"domain": ["Mutation& Female", "Mutation & Male", "Wildtype & Female", "Wildtype & Male"], "range": ["#FF0000", "#0000FF", "#FF0000", "#0000FF"]}}
     }},
    {"data": {"name": "curves"}, "transform": [{"filter": "datum.p == 'c'"}],
     "mark": {"type": "line", "interpolate": "monotone", "strokeWidth": 1.3, "opacity": 1},
     "encoding": {
       "y": {"field": "est", "type": "quantitative", "title": "probability"},
       "stroke": {"field": "s", "type": "nominal", "legend": null, "scale": {"domain": ["Wildtype & Male", "Wildtype & Female", "Mutation & Male", "Mutation& Female"], "range": ["#0000FF", "#FF0000", "#0000FF", "#FF0000"]}}
     }},
    {"data": {"name": "curves"}, "transform": [{"filter": "datum.p == 'c'"}, {"filter": {"field": "age", "oneOf": [4, 14, 24, 34, 44, 54, 64, 74]}}, {"filter": {"field": "s", "oneOf": ["Wildtype & Male", "Mutation & Male"]}}],
     "mark": {"type": "point", "shape": "circle", "size": 42, "strokeWidth": 1, "opacity": 1},
     "encoding": {
       "y": {"field": "est", "type": "quantitative", "title": "probability"},
       "stroke": {"field": "s", "type": "nominal", "legend": null},
       "fill": {"field": "s", "type": "nominal", "legend": null, "scale": {"domain": ["Wildtype & Male", "Wildtype & Female", "Mutation & Male", "Mutation& Female"], "range": ["transparent", "transparent", "#0000FF", "#FF0000"]}}
     }},
    {"data": {"name": "curves"}, "transform": [{"filter": "datum.p == 'c'"}, {"filter": {"field": "age", "oneOf": [4, 14, 24, 34, 44, 54, 64, 74]}}, {"filter": {"field": "s", "oneOf": ["Wildtype & Female", "Mutation& Female"]}}],
     "mark": {"type": "point", "shape": "triangle-up", "size": 55, "strokeWidth": 1, "opacity": 1},
     "encoding": {
       "y": {"field": "est", "type": "quantitative", "title": "probability"},
       "stroke": {"field": "s", "type": "nominal", "legend": null},
       "fill": {"field": "s", "type": "nominal", "legend": null}
     }}
  ]
},
{
  "width": 307, "height": 288,
  "title": {"text": "(d)  Overall, q(t|G,X) = ∑ₖ qₖ(t|G,X)", "orient": "bottom", "offset": 21, "anchor": "middle", "frame": "group", "dx": -20, "fontSize": 20.5},
  "encoding": {"x": {"field": "age", "type": "quantitative", "scale": {"domain": [0, 80], "nice": false, "zero": false}, "axis": null}},
  "layer": [
    {"data": {"name": "curves"}, "transform": [{"filter": "datum.p == 'd'"}],
     "mark": {"type": "area", "interpolate": "monotone", "fillOpacity": 0.11, "opacity": 1},
     "encoding": {
       "x": {"field": "age", "type": "quantitative", "title": "age", "scale": {"domain": [0, 80], "nice": false, "zero": false}, "axis": {"orient": "bottom", "values": [0, 20, 40, 60, 80], "labelFontWeight": "normal", "titleFontWeight": "normal"}},
       "y": {"field": "lo", "type": "quantitative", "title": "probability", "scale": {"domain": [0, 1], "nice": false, "zero": false}, "axis": {"values": [0, 0.2, 0.4, 0.6, 0.8, 1], "format": ".1f"}},
       "y2": {"field": "hi"},
       "color": {"field": "s", "type": "nominal", "legend": null, "scale": {"domain": ["Mutation& Female", "Mutation & Male", "Wildtype & Female", "Wildtype & Male"], "range": ["#FF0000", "#0000FF", "#FF0000", "#0000FF"]}}
     }},
    {"data": {"name": "curves"}, "transform": [{"filter": "datum.p == 'd'"}],
     "mark": {"type": "line", "interpolate": "monotone", "strokeWidth": 1.3, "opacity": 1},
     "encoding": {
       "y": {"field": "est", "type": "quantitative", "title": "probability"},
       "stroke": {"field": "s", "type": "nominal", "scale": {"domain": ["Wildtype & Male", "Wildtype & Female", "Mutation & Male", "Mutation& Female", "SEER−Male", "SEER−Female"], "range": ["#0000FF", "#FF0000", "#0000FF", "#FF0000", "#00FFFF", "#FF00FF"]},
         "legend": {"orient": "none", "legendX": -12, "legendY": -12.3, "title": null, "labelFont": "Liberation Sans", "labelFontSize": 13.5, "labelColor": "black", "symbolSize": 750, "symbolStrokeWidth": 1.3, "symbolFillColor": "transparent", "symbolOpacity": 1, "clipHeight": 17, "rowPadding": 0, "padding": 9, "strokeColor": "#333", "fillColor": "white", "symbolOffset": -7.5, "labelOffset": 11, "labelLimit": 300}},
       "strokeDash": {"field": "s", "type": "nominal", "scale": {"domain": ["Wildtype & Male", "Wildtype & Female", "Mutation & Male", "Mutation& Female", "SEER−Male", "SEER−Female"], "range": [[1, 0], [1, 0], [1, 0], [1, 0], [4, 4], [1.6, 2.4]]},
         "legend": {"orient": "none", "legendX": -12, "legendY": -12.3, "title": null, "labelFont": "Liberation Sans", "labelFontSize": 13.5, "labelColor": "black", "symbolSize": 750, "symbolStrokeWidth": 1.3, "symbolFillColor": "transparent", "symbolOpacity": 1, "clipHeight": 17, "rowPadding": 0, "padding": 9, "strokeColor": "#333", "fillColor": "white", "symbolOffset": -7.5, "labelOffset": 11, "labelLimit": 300}}
     }},
    {"data": {"name": "seer"},
     "mark": {"type": "line", "interpolate": "monotone", "strokeWidth": 1.8, "opacity": 1},
     "encoding": {
       "y": {"field": "est", "type": "quantitative", "title": "probability"},
       "stroke": {"field": "s", "type": "nominal",
         "legend": {"orient": "none", "legendX": -12, "legendY": -12.3, "title": null, "labelFont": "Liberation Sans", "labelFontSize": 13.5, "labelColor": "black", "symbolSize": 750, "symbolStrokeWidth": 1.3, "symbolFillColor": "transparent", "symbolOpacity": 1, "clipHeight": 17, "rowPadding": 0, "padding": 9, "strokeColor": "#333", "fillColor": "white", "symbolOffset": -7.5, "labelOffset": 11, "labelLimit": 300}},
       "strokeDash": {"field": "s", "type": "nominal",
         "legend": {"orient": "none", "legendX": -12, "legendY": -12.3, "title": null, "labelFont": "Liberation Sans", "labelFontSize": 13.5, "labelColor": "black", "symbolSize": 750, "symbolStrokeWidth": 1.3, "symbolFillColor": "transparent", "symbolOpacity": 1, "clipHeight": 17, "rowPadding": 0, "padding": 9, "strokeColor": "#333", "fillColor": "white", "symbolOffset": -7.5, "labelOffset": 11, "labelLimit": 300}}
     }},
    {"data": {"name": "curves"}, "transform": [{"filter": "datum.p == 'd'"}, {"filter": {"field": "age", "oneOf": [4, 14, 24, 34, 44, 54, 64, 74]}}, {"filter": {"field": "s", "oneOf": ["Wildtype & Male", "Mutation & Male"]}}],
     "mark": {"type": "point", "shape": "circle", "size": 42, "strokeWidth": 1, "opacity": 1},
     "encoding": {
       "y": {"field": "est", "type": "quantitative", "title": "probability"},
       "stroke": {"field": "s", "type": "nominal",
         "legend": {"orient": "none", "legendX": -12, "legendY": -12.3, "title": null, "labelFont": "Liberation Sans", "labelFontSize": 13.5, "labelColor": "black", "symbolSize": 750, "symbolStrokeWidth": 1.3, "symbolFillColor": "transparent", "symbolOpacity": 1, "clipHeight": 17, "rowPadding": 0, "padding": 9, "strokeColor": "#333", "fillColor": "white", "symbolOffset": -7.5, "labelOffset": 11, "labelLimit": 300}},
       "fill": {"field": "s", "type": "nominal", "scale": {"domain": ["Wildtype & Male", "Wildtype & Female", "Mutation & Male", "Mutation& Female", "SEER−Male", "SEER−Female"], "range": ["transparent", "transparent", "#0000FF", "#FF0000", "transparent", "transparent"]},
         "legend": {"orient": "none", "legendX": -12, "legendY": -12.3, "title": null, "labelFont": "Liberation Sans", "labelFontSize": 13.5, "labelColor": "black", "symbolSize": 750, "symbolStrokeWidth": 1.3, "symbolFillColor": "transparent", "symbolOpacity": 1, "clipHeight": 17, "rowPadding": 0, "padding": 9, "strokeColor": "#333", "fillColor": "white", "symbolOffset": -7.5, "labelOffset": 11, "labelLimit": 300}}
     }},
    {"data": {"name": "curves"}, "transform": [{"filter": "datum.p == 'd'"}, {"filter": {"field": "age", "oneOf": [4, 14, 24, 34, 44, 54, 64, 74]}}, {"filter": {"field": "s", "oneOf": ["Wildtype & Female", "Mutation& Female"]}}],
     "mark": {"type": "point", "shape": "triangle-up", "size": 55, "strokeWidth": 1, "opacity": 1},
     "encoding": {
       "y": {"field": "est", "type": "quantitative", "title": "probability"},
       "stroke": {"field": "s", "type": "nominal",
         "legend": {"orient": "none", "legendX": -12, "legendY": -12.3, "title": null, "labelFont": "Liberation Sans", "labelFontSize": 13.5, "labelColor": "black", "symbolSize": 750, "symbolStrokeWidth": 1.3, "symbolFillColor": "transparent", "symbolOpacity": 1, "clipHeight": 17, "rowPadding": 0, "padding": 9, "strokeColor": "#333", "fillColor": "white", "symbolOffset": -7.5, "labelOffset": 11, "labelLimit": 300}},
       "fill": {"field": "s", "type": "nominal",
         "legend": {"orient": "none", "legendX": -12, "legendY": -12.3, "title": null, "labelFont": "Liberation Sans", "labelFontSize": 13.5, "labelColor": "black", "symbolSize": 750, "symbolStrokeWidth": 1.3, "symbolFillColor": "transparent", "symbolOpacity": 1, "clipHeight": 17, "rowPadding": 0, "padding": 9, "strokeColor": "#333", "fillColor": "white", "symbolOffset": -7.5, "labelOffset": 11, "labelLimit": 300}}
     }},
    {"data": {"name": "curves"}, "transform": [{"filter": "false"}],
     "mark": {"type": "point", "opacity": 1, "strokeWidth": 1.3},
     "encoding": {
       "x": {"field": "age", "type": "quantitative", "title": "Overall", "scale": {"domain": [0, 80], "nice": false, "zero": false}, "axis": {"orient": "top", "domain": false, "ticks": false, "labels": false, "offset": 0, "titleFontWeight": "bold", "titleFontSize": 17, "titlePadding": 21}},
       "shape": {"field": "s", "type": "nominal", "scale": {"domain": ["Wildtype & Male", "Wildtype & Female", "Mutation & Male", "Mutation& Female", "SEER−Male", "SEER−Female"], "range": ["M-0.51,0H-0.28M0.28,0H1M0.28,0A0.28,0.28,0,1,1,-0.28,0A0.28,0.28,0,1,1,0.28,0Z", "M-0.51,0H1M0,-0.34L0.33,0.23L-0.33,0.23Z", "M-0.51,0H-0.28M0.28,0H1M0.28,0A0.28,0.28,0,1,1,-0.28,0A0.28,0.28,0,1,1,0.28,0Z", "M-0.51,0H1M0,-0.34L0.33,0.23L-0.33,0.23Z", "M-0.51,0H1", "M-0.51,0H1"]},
         "legend": {"orient": "none", "legendX": -12, "legendY": -12.3, "title": null, "labelFont": "Liberation Sans", "labelFontSize": 13.5, "labelColor": "black", "symbolSize": 750, "symbolStrokeWidth": 1.3, "symbolFillColor": "transparent", "symbolOpacity": 1, "clipHeight": 17, "rowPadding": 0, "padding": 9, "strokeColor": "#333", "fillColor": "white", "symbolOffset": -7.5, "labelOffset": 11, "labelLimit": 300}},
       "stroke": {"field": "s", "type": "nominal",
         "legend": {"orient": "none", "legendX": -12, "legendY": -12.3, "title": null, "labelFont": "Liberation Sans", "labelFontSize": 13.5, "labelColor": "black", "symbolSize": 750, "symbolStrokeWidth": 1.3, "symbolFillColor": "transparent", "symbolOpacity": 1, "clipHeight": 17, "rowPadding": 0, "padding": 9, "strokeColor": "#333", "fillColor": "white", "symbolOffset": -7.5, "labelOffset": 11, "labelLimit": 300}},
       "fill": {"field": "s", "type": "nominal",
         "legend": {"orient": "none", "legendX": -12, "legendY": -12.3, "title": null, "labelFont": "Liberation Sans", "labelFontSize": 13.5, "labelColor": "black", "symbolSize": 750, "symbolStrokeWidth": 1.3, "symbolFillColor": "transparent", "symbolOpacity": 1, "clipHeight": 17, "rowPadding": 0, "padding": 9, "strokeColor": "#333", "fillColor": "white", "symbolOffset": -7.5, "labelOffset": 11, "labelLimit": 300}},
       "strokeDash": {"field": "s", "type": "nominal",
         "legend": {"orient": "none", "legendX": -12, "legendY": -12.3, "title": null, "labelFont": "Liberation Sans", "labelFontSize": 13.5, "labelColor": "black", "symbolSize": 750, "symbolStrokeWidth": 1.3, "symbolFillColor": "transparent", "symbolOpacity": 1, "clipHeight": 17, "rowPadding": 0, "padding": 9, "strokeColor": "#333", "fillColor": "white", "symbolOffset": -7.5, "labelOffset": 11, "labelLimit": 300}}
     }}
  ]
}
],
"config": {
  "view": {"stroke": null},
  "font": "Liberation Sans",
  "axis": {"grid": false, "labelFont": "Liberation Sans", "labelFontSize": 16, "labelColor": "#000", "titleFont": "Liberation Sans", "titleFontSize": 16.5, "titleFontWeight": "normal", "titleColor": "#000", "domainColor": "#333", "tickColor": "#333", "tickSize": 5.5, "labelFlush": false, "labelOverlap": false, "labelBound": false},
  "axisX": {"offset": 11, "labelPadding": 0.5, "titlePadding": 1},
  "axisY": {"offset": 12, "labelAngle": -90, "labelAlign": "center", "labelBaseline": "alphabetic", "labelPadding": 8.5, "labelFontSize": 15, "titlePadding": 4},
  "title": {"font": "DejaVu Serif", "fontSize": 23, "fontWeight": "normal", "color": "#000"}
}
}
